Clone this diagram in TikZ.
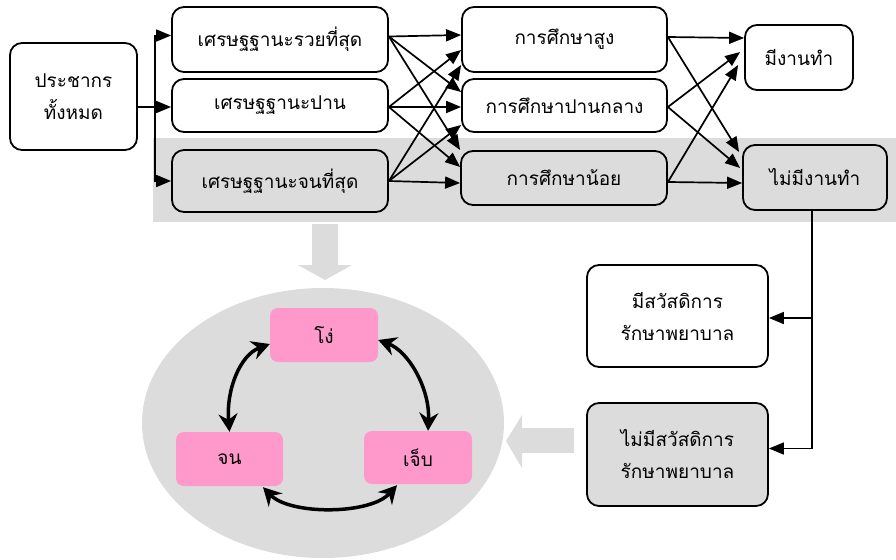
\documentclass[tikz,border=0pt]{standalone}
\usepackage{fontspec}
\setmainfont[Script=Thai]{Loma}
\usetikzlibrary{arrows.meta,calc,shapes.geometric}
\definecolor{bandgray}{HTML}{DCDCDC}
\definecolor{pinkbox}{HTML}{FF99CC}
\begin{document}
\begin{tikzpicture}[x=1pt,y=-1pt,
  box/.style={draw,line width=1.8pt,rounded corners=12pt,fill=white,align=center,inner sep=0pt,font=\fontsize{19}{32}\selectfont},
  gbox/.style={box,fill=bandgray},
  arr/.style={line width=1.7pt,-{Triangle[length=15pt,width=12pt]}},
  plain/.style={line width=1.7pt},
  cyc/.style={line width=3.5pt,{Stealth[length=18pt,width=19pt,inset=6pt]}-{Stealth[length=18pt,width=19pt,inset=6pt]}},
  pbox/.style={fill=pinkbox,rounded corners=8pt,inner sep=0pt,align=center,font=\fontsize{19}{32}\selectfont}]
\useasboundingbox (0,0) rectangle (896,559);
% background shapes
\fill[bandgray] (153,138) rectangle (896,222);
\fill[bandgray] (323,423) ellipse [x radius=181, y radius=135];
\fill[bandgray] (312,224) -- (338,224) -- (338,265) -- (352,265) -- (325,280) -- (298,265) -- (312,265) -- cycle;
\fill[bandgray] (574,428) -- (574,453) -- (522,453) -- (522,468) -- (506,441) -- (522,415) -- (522,428) -- cycle;
% nodes
\node[box, minimum width=127pt, minimum height=107pt] (p) at (73.5,96.5) {ประชากร\\ทั้งหมด};
\node[box, minimum width=216pt, minimum height=65pt] (r1) at (280,39.5) {เศรษฐฐานะรวยที่สุด};
\node[box, minimum width=216pt, minimum height=53pt] (r2) at (280,105.5) {เศรษฐฐานะปาน};
\node[gbox, minimum width=216pt, minimum height=62pt] (r3) at (280,181) {เศรษฐฐานะจนที่สุด};
\node[box, minimum width=205pt, minimum height=65pt] (e1) at (564.5,39.5) {การศึกษาสูง};
\node[box, minimum width=205pt, minimum height=53pt] (e2) at (564.5,105.5) {การศึกษาปานกลาง};
\node[gbox, minimum width=206pt, minimum height=54pt] (e3) at (564,178) {การศึกษาน้อย};
\node[box, minimum width=108pt, minimum height=65pt] (j1) at (799,57.5) {มีงานทำ};
\node[gbox, minimum width=144pt, minimum height=65pt] (j2) at (815,177.5) {ไม่มีงานทำ};
\node[box, minimum width=181pt, minimum height=102pt] (w1) at (677.5,316) {มีสวัสดิการ\\รักษาพยาบาล};
\node[gbox, minimum width=181pt, minimum height=103pt] (w2) at (677.5,454.5) {ไม่มีสวัสดิการ\\รักษาพยาบาล};
\node[pbox, minimum width=108pt, minimum height=54pt] (k1) at (324,335) {โง่};
\node[pbox, minimum width=107pt, minimum height=54pt] (k2) at (229.5,459) {จน};
\node[pbox, minimum width=108pt, minimum height=53pt] (k3) at (418,457.5) {เจ็บ};
% population to economic status
\coordinate (sp) at (155,107);
\draw[plain] (p.east |- sp) -- (sp);
\draw[arr] (sp) |- ($(r1.west)+(0,-4)$);
\draw[arr] (sp) -- ($(r2.west)+(0,1.5)$);
\draw[arr] (sp) |- (r3.west);
% economic status to education
\coordinate (s1) at ($(r1.east)+(0,-3)$);
\coordinate (s2) at ($(r2.east)+(0,1.5)$);
\coordinate (s3) at (r3.east);
\draw[arr] (s1) -- ($(e1.west)+(0,-4.5)$);
\draw[arr] (s1) -- ($(e2.west)+(0,-13.5)$);
\draw[arr] (s1) -- ($(e3.west)+(0,-28)$);
\draw[arr] (s2) -- ($(e1.west)+(0,10.5)$);
\draw[arr] (s2) -- ($(e2.west)+(0,1.5)$);
\draw[arr] (s2) -- ($(e3.west)+(0,-11)$);
\draw[arr] (s3) -- ($(e1.west)+(0,25.5)$);
\draw[arr] (s3) -- ($(e2.west)+(0,19.5)$);
\draw[arr] (s3) -- ($(e3.west)+(0,5)$);
% education to employment
\coordinate (t1) at ($(e1.east)+(0,-2.5)$);
\coordinate (t2) at ($(e2.east)+(0,1.5)$);
\coordinate (t3) at ($(e3.east)+(0,4)$);
\draw[arr] (t1) -- ($(j1.west)+(0,-19.5)$);
\draw[arr] (t2) -- ($(j1.west)+(-4,-5.5)$);
\draw[arr] (t3) -- ($(j1.west)+(-6,7.5)$);
\draw[arr] (t1) -- ($(j2.west)+(-3,-25.5)$);
\draw[arr] (t2) -- ($(j2.west)+(-2,-9.5)$);
\draw[arr] (t3) -- ($(j2.west)+(0,5.5)$);
% unemployed to welfare
\coordinate (jd) at ($(j2.south)+(-3,0)$);
\coordinate (b1) at ($(w1.east)+(0,2)$);
\coordinate (b2) at ($(w2.east)+(0,-6)$);
\draw[arr] (jd) |- (b2);
\draw[arr] (jd |- b1) -- (b1);
% cycle
\draw[cyc] ($(k1.west)+(0,9)$) .. controls (240,355) and (226,390) .. (k2.north);
\draw[cyc] ($(k1.east)+(0,5)$) .. controls (408,351) and (430,388) .. ($(k3.north)+(10,0)$);
\draw[cyc] ($(k2.south)+(33.5,1)$) .. controls (290,515) and (370,515) .. ($(k3.south)+(-21,1)$);
\end{tikzpicture}
\end{document}
